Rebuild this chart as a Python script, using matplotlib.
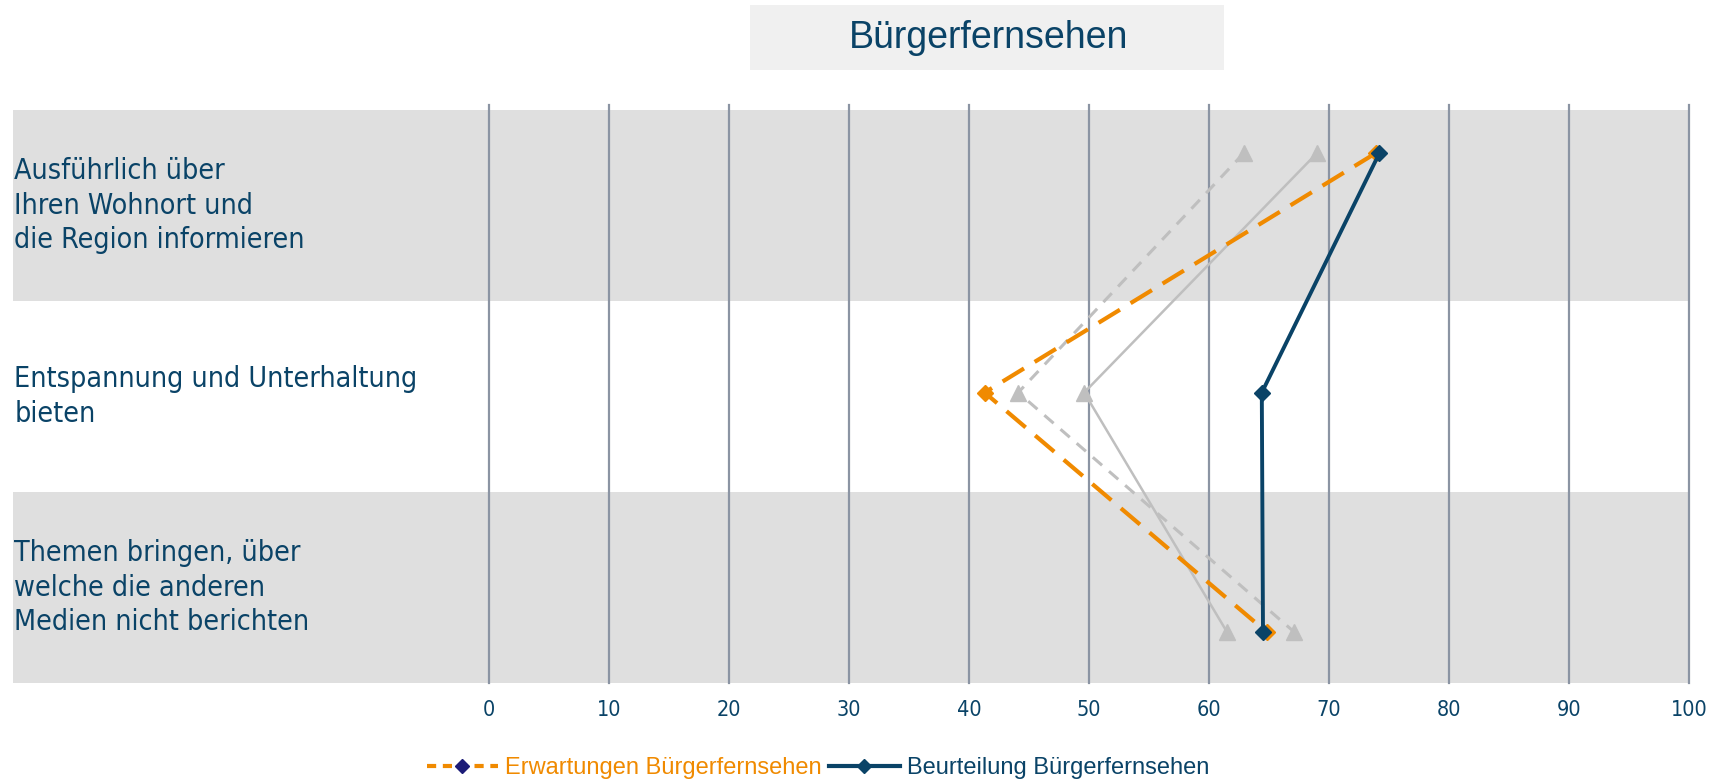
"""Bürgerfernsehen: Erwartungen vs. Beurteilung."""

import matplotlib
matplotlib.use("Agg")
import matplotlib.pyplot as plt
from matplotlib.lines import Line2D
from matplotlib.patches import Rectangle

categories = [
    "Ausführlich über\nIhren Wohnort und\ndie Region informieren",
    "Entspannung und Unterhaltung\nbieten",
    "Themen bringen, über\nwelche die anderen\nMedien nicht berichten",
]
erwartungen = [73.9, 41.3, 64.8]
beurteilung = [74.2, 64.4, 64.5]
grey_dashed = [62.9, 44.1, 67.1]
grey_solid = [69.0, 49.6, 61.5]
x_ticks = [0, 10, 20, 30, 40, 50, 60, 70, 80, 90, 100]

NAVY = "#0a4367"
ORANGE = "#f08a00"
GREY = "#bfbfbf"
BAND = "#dfdfdf"
GRID = "#8b94a3"

W, H = 1713, 779
fig = plt.figure(figsize=(W / 100, H / 100), dpi=100)

# axes placed in pixels: x 489..1689, y 110..683
ax = fig.add_axes([489 / W, 1 - 683 / H, 1200 / W, 573 / H])
ax.set_xlim(0, 100)
ax.set_ylim(2.213, -0.18)
ax.set_facecolor("none")
for s in ax.spines.values():
    s.set_visible(False)

label_font = dict(family="DejaVu Sans", stretch="condensed")

# alternating bands, stretching left under the category labels
left = (13 - 489) / 1200
for i in range(3):
    y0 = 1 - (i + 1) / 3
    if i != 1:
        ax.add_patch(Rectangle((left, y0), 1 - left, 1 / 3, transform=ax.transAxes,
                               facecolor=BAND, edgecolor="none", zorder=0, clip_on=False))
    ax.text(left + 0.001, y0 + 1 / 6, categories[i], transform=ax.transAxes,
            ha="left", va="center", fontsize=20.5, color=NAVY, linespacing=1.3,
            **label_font)

for xv in x_ticks:
    ax.plot([xv, xv], [0, 1.009], transform=ax.get_xaxis_transform(), color=GRID,
            lw=1.6, zorder=1, clip_on=False)

y = list(range(len(categories)))
ax.plot(grey_dashed, y, color=GREY, lw=2.2, ls=(0, (4, 3)), marker="^", ms=11,
        zorder=2)
ax.plot(grey_solid, y, color=GREY, lw=1.8, marker="^", ms=11, zorder=2)
ax.plot(erwartungen, y, color=ORANGE, lw=3, ls=(0, (6, 3)), marker="D", ms=8,
        zorder=3)
ax.plot(beurteilung, y, color=NAVY, lw=2.8, marker="D", ms=8, zorder=4)

ax.set_yticks([])
ax.set_xticks(x_ticks)
ax.tick_params(axis="x", length=0, pad=12, labelcolor=NAVY, labelsize=15.5)
for lab in ax.get_xticklabels():
    lab.set_fontstretch("condensed")

# title box
fig.patches.append(Rectangle((750 / W, 1 - 70 / H), 474 / W, 65 / H,
                             transform=fig.transFigure, facecolor="#f0f0f0",
                             edgecolor="none", zorder=0))
fig.text(989 / W, 1 - 38 / H, "Bürgerfernsehen", ha="center", va="center",
         fontsize=27, color=NAVY, family="Liberation Sans")

handles = [
    Line2D([], [], color=ORANGE, lw=3, ls=(0, (2.2, 1.6)), marker="D", ms=7,
           markerfacecolor="#1c1c78", markeredgecolor="#1c1c78"),
    Line2D([], [], color=NAVY, lw=3, marker="D", ms=7),
]
leg = fig.legend(handles, ["Erwartungen Bürgerfernsehen", "Beurteilung Bürgerfernsehen"],
                 loc="center", bbox_to_anchor=(818 / W, 1 - 768 / H), ncol=2,
                 frameon=False, handlelength=3.0, handletextpad=0.3,
                 columnspacing=0.3, prop={"family": "Liberation Sans", "size": 17})
leg.get_texts()[0].set_color(ORANGE)
leg.get_texts()[1].set_color(NAVY)

fig.savefig("out.png", dpi=100)
